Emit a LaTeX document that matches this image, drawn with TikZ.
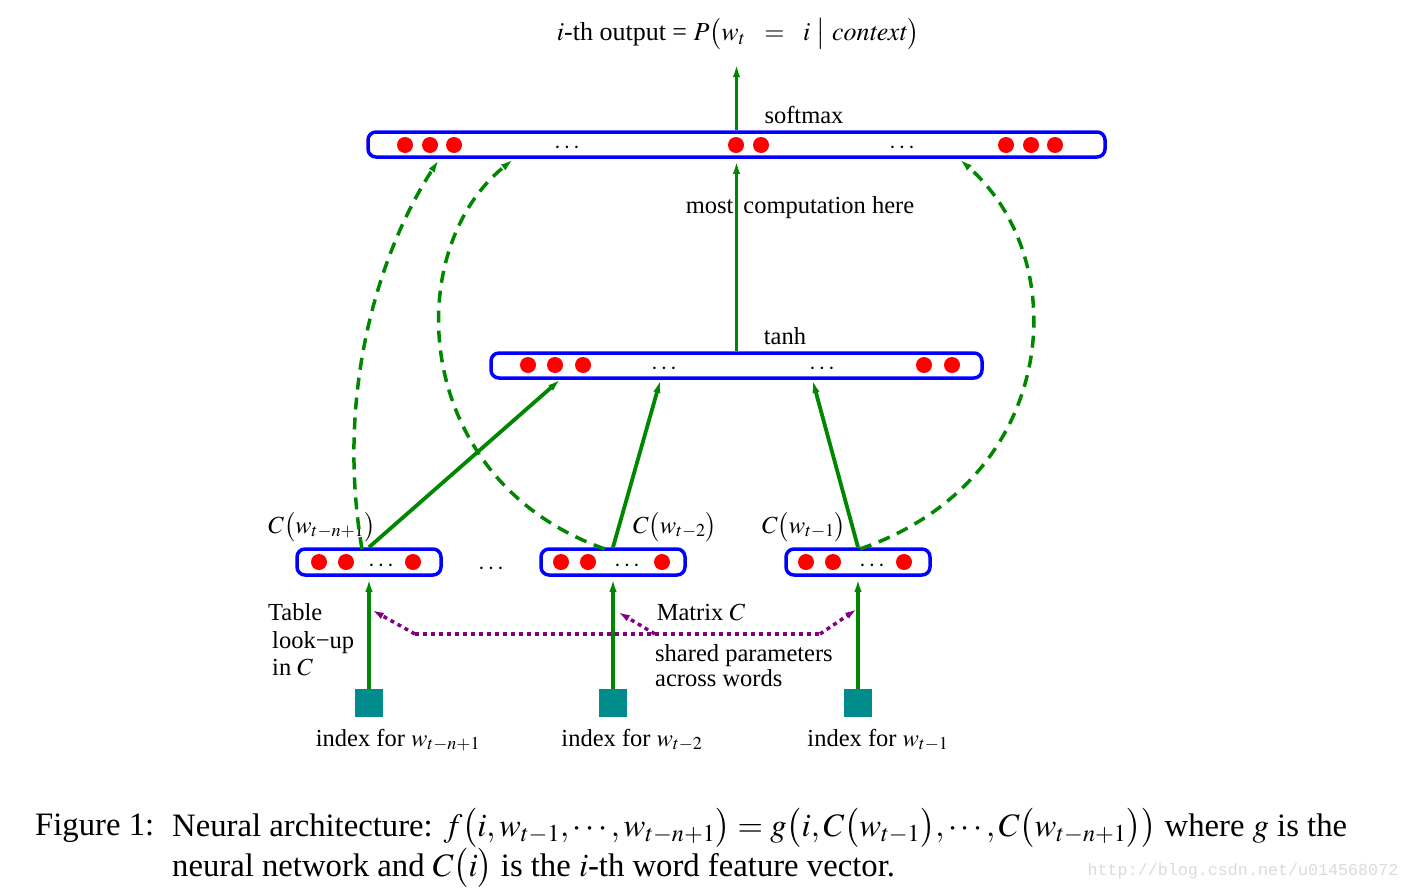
\documentclass[tikz,border=0pt]{standalone}
\usepackage{mathptmx}
\usepackage{fontspec}
\setmainfont{Liberation Serif}
\newfontfamily\wmfont{Liberation Mono}
\usetikzlibrary{arrows.meta,calc}
\definecolor{gg}{RGB}{0,135,0}
\definecolor{bb}{RGB}{0,0,255}
\definecolor{rr}{RGB}{255,0,0}
\definecolor{tt}{RGB}{0,140,140}
\definecolor{pp}{RGB}{130,0,130}
\begin{document}
\begin{tikzpicture}[x=1pt,y=-1pt,
  bar/.style={draw=bb,line width=3.5pt,rounded corners=8pt,fill=white,inner sep=0pt},
  dotn/.style={circle,fill=rr,inner sep=0pt,minimum size=16pt},
  idx/.style={fill=tt,inner sep=0pt,minimum size=28pt},
  garrow/.style={draw=gg,line width=3.8pt,-{Latex[length=15pt,width=7pt]}},
  gdash/.style={draw=gg,line width=3.5pt,dash pattern=on 12pt off 8pt,-{Latex[length=15pt,width=7pt]}},
  pdot/.style={draw=pp,line width=3.5pt,dash pattern=on 4pt off 4pt},
  parrow/.style={pdot,-{Latex[length=12pt,width=7pt]}},
  lbl/.style={inner sep=0pt,font=\fontsize{24.5}{27.5}\selectfont},
  ell/.style={inner sep=0pt,font=\fontsize{24.5}{27.5}\selectfont}]
\useasboundingbox (0,0) rectangle (1410,891);
% bars
\node[bar,minimum width=737pt,minimum height=25pt] (soft) at (736.5,144.5) {};
\node[bar,minimum width=491pt,minimum height=25pt] (tanh) at (736.5,365.5) {};
\node[bar,minimum width=144pt,minimum height=26pt] (b1) at (369,562) {};
\node[bar,minimum width=144pt,minimum height=26pt] (b2) at (613,562) {};
\node[bar,minimum width=144pt,minimum height=26pt] (b3) at (858,562) {};
% dots in softmax
\foreach \x/\n in {405/s1,430/s2,454/s3,736/s4,761/s5,1006/s6,1031/s7,1055/s8}
  \node[dotn] (\n) at (\x,145) {};
\node[ell] (sd1) at (567,148) {$\cdots$};
\node[ell] (sd2) at (902,148) {$\cdots$};
% dots in tanh
\foreach \x/\n in {528/h1,555/h2,583/h3,924/h4,952/h5}
  \node[dotn] (\n) at (\x,365) {};
\node[ell] (hd1) at (664,369) {$\cdots$};
\node[ell] (hd2) at (822,369) {$\cdots$};
% dots in bottom bars
\foreach \x/\n in {319/a1,346/a2,413/a3,561/c1,588/c2,662/c3,806/e1,833/e2,904/e3}
  \node[dotn] (\n) at (\x,562) {};
\node[ell] (ad) at (381,566) {$\cdots$};
\node[ell] (cd) at (627,566) {$\cdots$};
\node[ell] (ed) at (872,566) {$\cdots$};
\node[ell] (mid) at (491,569) {$\cdots$};
% index squares
\node[idx] (i1) at (369,703) {};
\node[idx] (i2) at (613,703) {};
\node[idx] (i3) at (858,703) {};
% labels
\node[inner sep=0pt,font=\fontsize{26}{28}\selectfont] (title) at (738,34) {$i$-th output = $P\bigl(w_t\ \ =\ \ i\ \big|\ \mathit{context}\bigr)$};
\node[lbl] (lsoft) at (804,115) {softmax};
\node[lbl] (lmost) at (800,208) {most\hspace{10pt}computation here};
\node[lbl] (ltanh) at (785,336) {tanh};
\node[lbl] (lc1) at (322,527) {$C\bigl(w_{t-n+1}\bigr)$};
\node[lbl] (lc2) at (675,527) {$C\bigl(w_{t-2}\bigr)$};
\node[lbl] (lc3) at (804,527) {$C\bigl(w_{t-1}\bigr)$};
\node[lbl] (li1) at (398,740) {index for $w_{t-n+1}$};
\node[lbl] (li2) at (632,740) {index for $w_{t-2}$};
\node[lbl] (li3) at (878,740) {index for $w_{t-1}$};
\node[lbl,align=left,anchor=west] (ltab) at (268,640) {Table\\\hspace*{4pt}look\textminus up\\\hspace*{4pt}in $C$};
\node[lbl] (lmat) at (701,612) {Matrix $C$};
\node[lbl,align=left,anchor=west,font=\fontsize{24.5}{25}\selectfont] (lshared) at (655,666) {shared parameters\\across words};
% green arrows
\coordinate (otip) at (736.5,62);
\draw[garrow] (soft.north) -- (otip);
\draw[garrow] (tanh.north) -- (soft.south);
\coordinate (t1) at (562,378);
\coordinate (t2) at (661,378);
\coordinate (t3) at (812,378);
\draw[garrow] (b1.north) -- (t1);
\draw[garrow] (b2.north) -- (t2);
\draw[garrow] (b3.north) -- (t3);
\draw[garrow] (i1.north) -- (b1.south);
\draw[garrow] (i2.north) -- (b2.south);
\draw[garrow] (i3.north) -- (b3.south);
% dashed curves
\coordinate (d1s) at (362,549);
\coordinate (d1e) at (440,158);
\coordinate (d2s) at (605,549);
\coordinate (d2e) at (515,158);
\coordinate (d3s) at (860,549);
\coordinate (d3e) at (958,158);
\draw[gdash] (d1s) .. controls (335,390) and (380,250) .. (d1e);
\draw[gdash] (d2s) .. controls (410,480) and (400,250) .. (d2e);
\draw[gdash] (d3s) .. controls (1060,480) and (1075,260) .. (d3e);
% purple dotted
\coordinate (pl) at (415,634);
\coordinate (pm) at (655,634);
\coordinate (pr) at (820,634);
\coordinate (pa1) at (372,610);
\coordinate (pa2) at (618,612);
\coordinate (pa3) at (857,609);
\draw[pdot] (pl) -- (pr);
\draw[parrow] (pl) -- (pa1);
\draw[parrow] (pm) -- (pa2);
\draw[parrow] (pr) -- (pa3);
% caption
\node[inner sep=0pt,anchor=west,font=\fontsize{32.7}{38}\selectfont] (fig) at (35,828) {Figure 1:};
\node[inner sep=0pt,anchor=west,font=\fontsize{32.7}{38}\selectfont] (cap1) at (172,828) {Neural architecture: $f\bigl(i,w_{t-1},\cdots,w_{t-n+1}\bigr)=g\bigl(i,C\bigl(w_{t-1}\bigr),\cdots,C\bigl(w_{t-n+1}\bigr)\bigr)$ where $g$ is the};
\node[inner sep=0pt,anchor=west,font=\fontsize{32.7}{38}\selectfont] (cap2) at (172,868) {neural network and $C\bigl(i\bigr)$ is the $i$-th word feature vector.};
\node[inner sep=0pt,text=black!14,font=\wmfont\fontsize{16.7}{18}\selectfont] (wm) at (1243,871) {http://blog.csdn.net/u014568072};
\end{tikzpicture}
\end{document}
